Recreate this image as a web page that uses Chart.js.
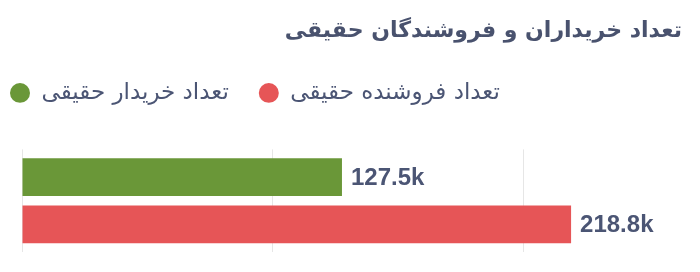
<!DOCTYPE html>
<html>
<head>
<meta charset="utf-8">
<script src="https://cdn.jsdelivr.net/npm/chart.js@4.4.1/dist/chart.umd.min.js"></script>
<style>
  html, body { margin: 0; padding: 0; background: #fff; }
  #wrap { width: 700px; height: 272px; }
</style>
</head>
<body>
<div id="wrap"><canvas id="chartTraders"></canvas></div>
<script>
const titleText = 'تعداد خریداران و فروشندگان حقیقی';
const categories = [''];
const seriesNames = ['تعداد خریدار حقیقی', 'تعداد فروشنده حقیقی'];
const buyerValues = [127500];
const sellerValues = [218800];
const gridTicks = [0, 100000, 200000];
const axisMax = 263000;

const textColor = '#4b5574';

// draws the "127.5k" labels after each bar
const valueLabels = {
  id: 'valueLabels',
  afterDatasetsDraw(chart) {
    const ctx = chart.ctx;
    ctx.save();
    ctx.font = 'bold 24px "Liberation Sans", Arial, sans-serif';
    ctx.fillStyle = textColor;
    ctx.textAlign = 'left';
    ctx.textBaseline = 'middle';
    chart.data.datasets.forEach((ds, i) => {
      chart.getDatasetMeta(i).data.forEach((bar, j) => {
        const v = ds.data[j];
        ctx.fillText((v / 1000).toFixed(1) + 'k', bar.x + 9, bar.y + 1);
      });
    });
    ctx.restore();
  }
};

// more room under the legend
const legendGap = {
  id: 'legendGap',
  beforeInit(chart) {
    const fit = chart.legend.fit;
    chart.legend.fit = function () {
      fit.call(this);
      this.height = 98;
    };
  }
};

new Chart(document.getElementById('chartTraders').getContext('2d'), {
  type: 'bar',
  data: {
    labels: categories,
    datasets: [
      { label: seriesNames[0], data: buyerValues, backgroundColor: '#6a9738' },
      { label: seriesNames[1], data: sellerValues, backgroundColor: '#e65557' }
    ]
  },
  options: {
    indexAxis: 'y',
    responsive: true,
    maintainAspectRatio: false,
    animation: false,
    categoryPercentage: 0.92,
    barPercentage: 0.8,
    layout: { padding: { left: -20, right: 18, bottom: 20 } },
    plugins: {
      title: {
        display: true,
        text: titleText,
        align: 'end',
        color: '#49526e',
        font: { family: '"DejaVu Sans", sans-serif', size: 22, weight: 'bold' },
        padding: { top: 18, bottom: 7 }
      },
      legend: {
        position: 'top',
        align: 'start',
        labels: {
          usePointStyle: true,
          pointStyle: 'circle',
          boxHeight: 14,
          pointStyleWidth: 20,
          padding: 30,
          color: textColor,
          font: { family: '"DejaVu Sans", sans-serif', size: 23 }
        }
      },
      tooltip: { enabled: false }
    },
    scales: {
      x: {
        min: 0,
        max: axisMax,
        afterBuildTicks: axis => { axis.ticks = gridTicks.map(v => ({ value: v })); },
        ticks: { display: false },
        border: { display: false },
        grid: { color: '#e6e6e6', drawTicks: false }
      },
      y: {
        afterFit: axis => { axis.width = 42; },
        ticks: { display: false },
        border: { display: false },
        grid: { display: false }
      }
    }
  },
  plugins: [valueLabels, legendGap]
});
</script>
</body>
</html>
